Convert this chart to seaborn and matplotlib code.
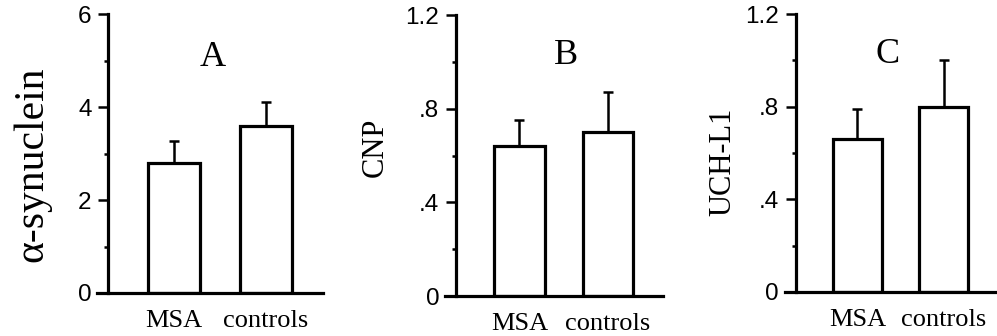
import numpy as np
import seaborn as sns
import matplotlib.pyplot as plt
from matplotlib.ticker import FixedLocator, FuncFormatter

# Data
categories = ["MSA", "controls"]

synuclein_mean = [2.80, 3.60]
synuclein_sem = [0.47, 0.51]

cnp_mean = [0.64, 0.70]
cnp_sem = [0.11, 0.17]

uch_mean = [0.66, 0.80]
uch_sem = [0.13, 0.20]

panel_letters = ["A", "B", "C"]
ylabels = ["\u03b1-synuclein", "CNP", "UCH-L1"]
ymax = [6, 1.2, 1.2]
major_ticks = [[0, 2, 4, 6], [0, 0.4, 0.8, 1.2], [0, 0.4, 0.8, 1.2]]
minor_ticks = [[1, 3, 5], [0.2, 0.6, 1.0], [0.2, 0.6, 1.0]]

sns.set_theme(style="ticks")
plt.rcParams['font.family'] = ['Liberation Serif', 'DejaVu Serif']
plt.rcParams['text.color'] = 'black'
plt.rcParams['axes.labelcolor'] = 'black'
plt.rcParams['xtick.color'] = 'black'
plt.rcParams['ytick.color'] = 'black'

fig = plt.figure(figsize=(9.97, 3.36), dpi=100)

rects = [
    [0.0973, 0.128, 0.2267, 0.830],
    [0.4463, 0.119, 0.2187, 0.836],
    [0.7874, 0.131, 0.2126, 0.827],
]
ylabel_sizes = [30, 22, 22]
ylabel_pos = [(-0.288, 0.462), (-0.321, 0.530), (-0.292, 0.468)]
title_pos = [(0.513, 0.846), (0.555, 0.858), (0.486, 0.853)]

means = [synuclein_mean, cnp_mean, uch_mean]
sems = [synuclein_sem, cnp_sem, uch_sem]


def tick_fmt(v, pos):
	if v == 0:
		return "0"
	if float(v).is_integer():
		return "%d" % v
	s = ("%.1f" % v)
	return s[1:] if s.startswith("0") else s


for i in range(3):
	ax = fig.add_axes(rects[i])
	sns.barplot(x=categories, y=means[i], color="white", saturation=1,
				edgecolor="black", linewidth=2.3, width=0.57, ax=ax)
	ax.errorbar([0, 1], means[i], yerr=[[0, 0], sems[i]], fmt="none",
				ecolor="black", elinewidth=1.8, capsize=3.5, capthick=1.8)

	ax.set_xlim(-0.84, 1.62)
	ax.set_ylim(0, ymax[i])

	ax.spines["top"].set_visible(False)
	ax.spines["right"].set_visible(False)
	ax.spines["left"].set_position(("axes", 0.05))
	for side in ["left", "bottom"]:
		ax.spines[side].set_linewidth(2.3)
		ax.spines[side].set_color("black")

	ax.yaxis.set_major_locator(FixedLocator(major_ticks[i]))
	ax.yaxis.set_minor_locator(FixedLocator(minor_ticks[i]))
	ax.yaxis.set_major_formatter(FuncFormatter(tick_fmt))
	ax.tick_params(axis="y", which="major", length=7, width=1.8, pad=5,
				   labelsize=17.5, color="black", labelcolor="black")
	ax.tick_params(axis="y", which="minor", length=3, width=1.8, color="black")
	for lab in ax.get_yticklabels():
		lab.set_family(["Liberation Sans", "DejaVu Sans"])

	ax.tick_params(axis="x", length=0, pad=12, labelsize=19, labelcolor="black")

	ax.set_ylabel(ylabels[i], fontsize=ylabel_sizes[i], color="black")
	ax.yaxis.label.set_va("center")
	ax.yaxis.set_label_coords(*ylabel_pos[i])

	ax.text(title_pos[i][0], title_pos[i][1], panel_letters[i], transform=ax.transAxes,
			ha="center", va="center", fontsize=26, color="black")
	ax.set_facecolor("white")

fig.savefig("out.png", dpi=100, facecolor="white")
